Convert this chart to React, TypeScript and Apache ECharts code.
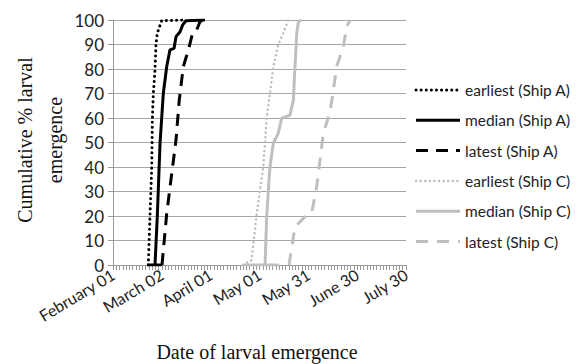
import React, { useEffect, useRef } from "react";
import * as echarts from "echarts";

// x values are days since February 01
const tickLabels = ["February 01", "March 02", "April 01", "May 01", "May 31", "June 30", "July 30"];
const yTicks = [0, 10, 20, 30, 40, 50, 60, 70, 80, 90, 100];

const earliestA: [number, number][] = [
  [21.7, 0], [22.7, 19.7], [23.8, 40], [24.2, 60], [24.8, 70], [25.8, 79.6],
  [26.4, 89.8], [27.2, 94.6], [29.9, 99.7], [43, 100],
];
const medianA: [number, number][] = [
  [21, 0], [30, 0], [25.8, 0], [27.2, 19.7], [28.9, 49.7], [30.9, 70], [33.0, 81],
  [35.0, 87.8], [37.5, 88.4], [38.7, 93.2], [41.2, 95.2], [42.8, 98], [44.8, 99.7], [56.5, 100],
];
const latestA: [number, number][] = [
  [30.1, 0], [33, 21], [36.1, 37.4], [38.7, 51], [40.7, 67.3], [43.2, 81],
  [46.3, 87.8], [48.9, 94.6], [51.4, 95.9], [53.4, 99.3], [54.7, 100],
];
const earliestC: [number, number][] = [
  [79.9, 0], [85.1, 2], [88.3, 21], [92.3, 40], [94.4, 60], [96.4, 70],
  [98.5, 81], [101.5, 89.8], [104.6, 94.6], [107.7, 100],
];
const medianC: [number, number][] = [
  [80, 0], [102, 0], [93.4, 0], [94.4, 19.7], [96.4, 40], [98.5, 49.7], [101.5, 53.7],
  [103.6, 59.9], [108.7, 61.2], [110.8, 67.3], [111.8, 81], [112.9, 94.6], [113.9, 99.3], [115.9, 100],
];
const latestC: [number, number][] = [
  [108.1, 0], [110, 8], [111.8, 15.6], [119, 20.4], [122, 21], [125.1, 32], [127.2, 42.9],
  [129.2, 53.7], [133.3, 62.4], [135.4, 71.4], [137.4, 81], [141.5, 89.1], [143.6, 97.3], [145.6, 100],
];

const seriesNames = [
  "earliest (Ship A)", "median (Ship A)", "latest (Ship A)",
  "earliest (Ship C)", "median (Ship C)", "latest (Ship C)",
];

const BLACK = "#000000";
const GRAY = "#bfbfbf";

type Sty = { color: string; width: number; dash: number[] | null; cap: "butt" | "round" };
const styles: Sty[] = [
  { color: BLACK, width: 3, dash: [0.1, 5], cap: "round" },
  { color: BLACK, width: 3, dash: null, cap: "butt" },
  { color: BLACK, width: 3, dash: [12, 8], cap: "butt" },
  { color: GRAY, width: 2.5, dash: [0.1, 4.5], cap: "round" },
  { color: GRAY, width: 3, dash: null, cap: "butt" },
  { color: GRAY, width: 3, dash: [12, 9], cap: "butt" },
];
const seriesData = [earliestA, medianA, latestA, earliestC, medianC, latestC];

export default function App() {
  const ref = useRef<HTMLDivElement>(null);
  useEffect(() => {
    if (!ref.current) return;
    const chart = echarts.init(ref.current, null, { renderer: "svg" });

    const legendGraphics: any[] = [];
    seriesNames.forEach((name, i) => {
      const s = styles[i];
      const y = 90 + i * 30.3;
      legendGraphics.push({
        type: "line",
        shape: { x1: 416, y1: y, x2: 460, y2: y },
        style: {
          stroke: s.color,
          lineWidth: s.width,
          lineDash: s.dash || undefined,
          lineCap: s.cap,
        },
      });
      legendGraphics.push({
        type: "text",
        x: 465,
        y: y,
        style: {
          text: name,
          font: '15.5px "Lato"',
          fill: "#222",
          align: "left",
          verticalAlign: "middle",
        },
      });
    });

    chart.setOption({
      animation: false,
      grid: { left: 113, right: 180, top: 20, bottom: 99 },
      xAxis: {
        type: "value",
        min: 0,
        max: 180,
        interval: 30,
        axisLine: { show: true, lineStyle: { color: "#999" } },
        axisTick: { show: true, length: 5, inside: false, lineStyle: { color: "#999" } },
        minorTick: { show: true, splitNumber: 15, length: 5, lineStyle: { color: "#999" } },
        splitLine: { show: false },
        axisLabel: {
          rotate: 31,
          margin: 8,
          fontFamily: "Lato",
          fontSize: 16,
          color: "#222",
          formatter: (v: number) => tickLabels[Math.round(v / 30)] ?? "",
        },
      },
      yAxis: {
        type: "value",
        min: 0,
        max: 100,
        interval: 10,
        axisLine: { show: true, lineStyle: { color: "#999" } },
        axisTick: { show: true, length: 5, lineStyle: { color: "#999" } },
        splitLine: { show: true, lineStyle: { color: "#a6a6a6", width: 1 } },
        axisLabel: {
          margin: 9,
          fontFamily: "Lato",
          fontSize: 17,
          color: "#222",
          formatter: (v: number) => (yTicks.includes(v) ? String(v) : ""),
        },
      },
      graphic: [
        {
          type: "text",
          x: 40,
          y: 140,
          rotation: Math.PI / 2,
          style: {
            text: "Cumulative % larval\nemergence",
            font: '20px "Liberation Serif"',
            fill: "#111",
            align: "center",
            verticalAlign: "middle",
            lineHeight: 30,
          },
        },
        {
          type: "text",
          x: 257,
          y: 352,
          style: {
            text: "Date of larval emergence",
            font: '20px "Liberation Serif"',
            fill: "#111",
            align: "center",
            verticalAlign: "middle",
          },
        },
        ...legendGraphics,
      ],
      series: seriesNames.map((name, i) => ({
        name,
        type: "line",
        data: seriesData[i],
        symbol: "none",
        lineStyle: {
          color: styles[i].color,
          width: styles[i].width,
          type: styles[i].dash || "solid",
          cap: styles[i].cap,
        },
        itemStyle: { color: styles[i].color },
      })),
    });
    return () => chart.dispose();
  }, []);
  return (
    <div
      ref={ref}
      style={{ position: "fixed", left: 0, top: 0, width: 586, height: 364, background: "#fff" }}
    />
  );
}
